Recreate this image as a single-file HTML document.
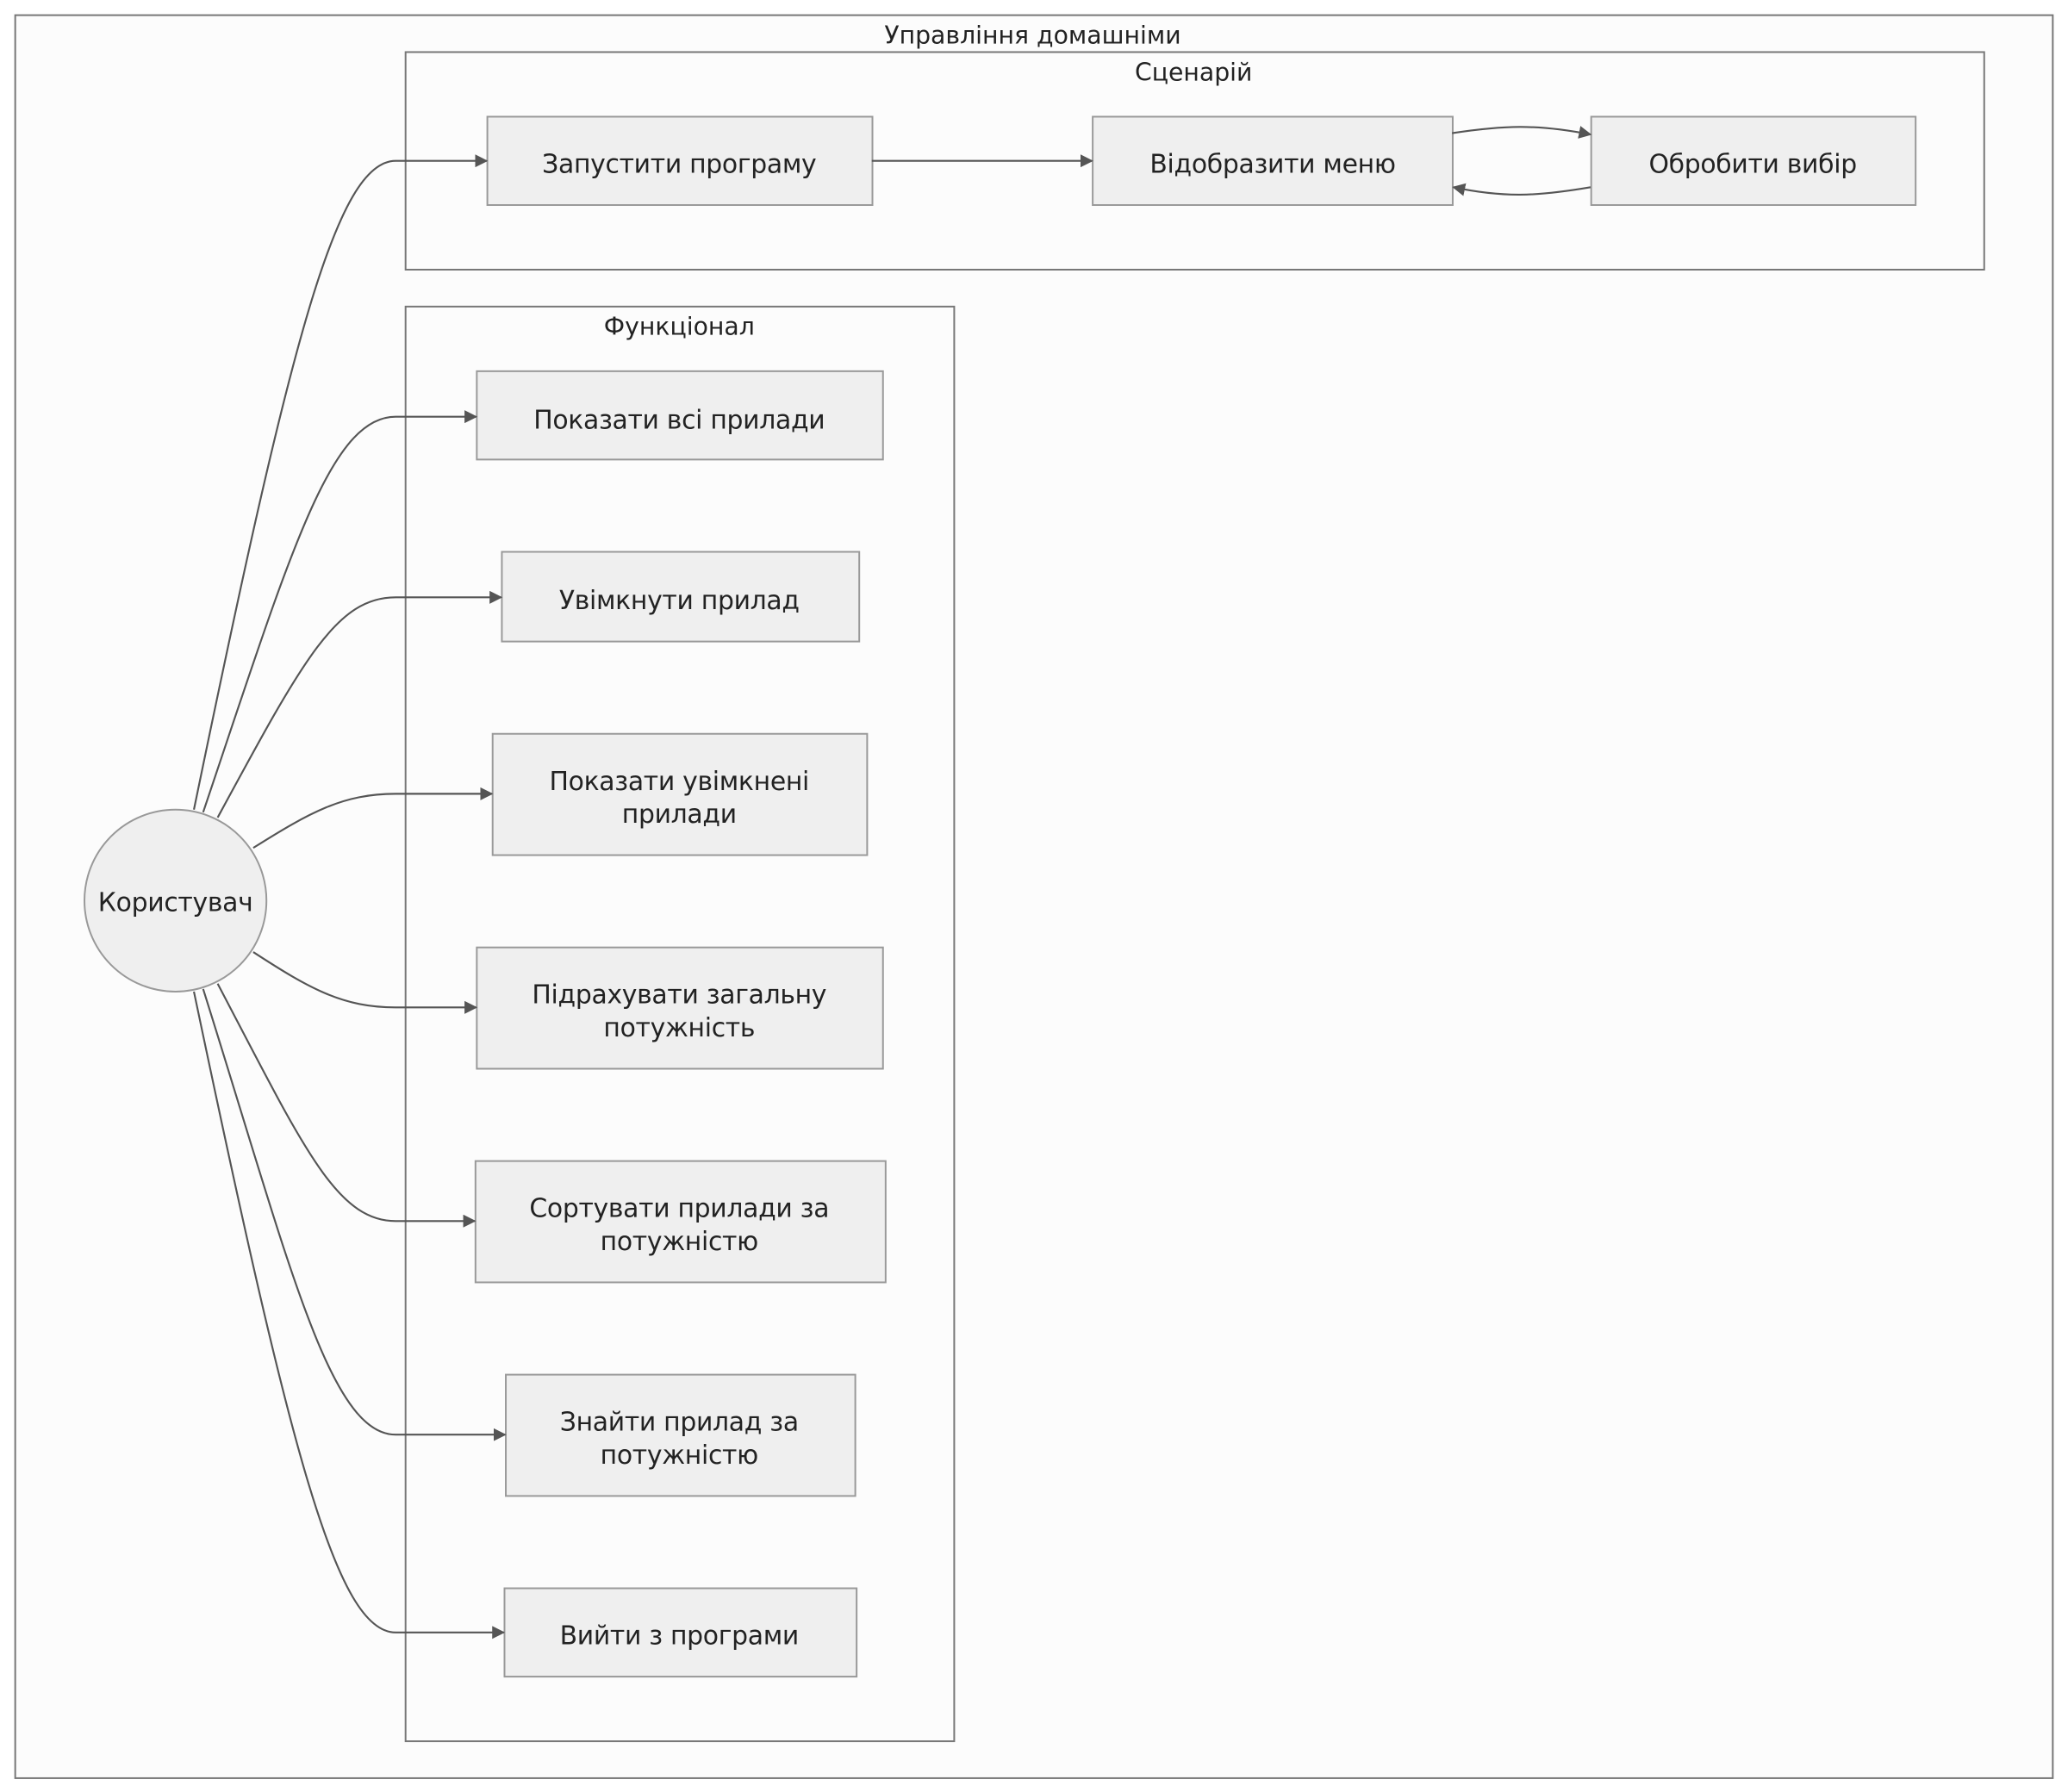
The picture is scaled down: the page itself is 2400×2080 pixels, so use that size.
<!DOCTYPE html>
<html><head><meta charset="utf-8"><style>
html,body{margin:0;padding:0;background:#fff;}
svg{display:block;}
text{font-family:"DejaVu Sans","Liberation Sans",sans-serif;fill:#222;}
</style></head><body>
<svg width="2400" height="2080" viewBox="0 0 1568 1359" xmlns="http://www.w3.org/2000/svg">
<defs><marker id="a" viewBox="0 0 10 10" refX="9" refY="5" markerWidth="7" markerHeight="7" orient="auto"><path d="M0,0L10,5L0,10z" fill="#555"/></marker></defs>
<rect x="0" y="0" width="1568" height="1359" fill="#fff"/>
<rect x="11.5" y="11.5" width="1545" height="1337" fill="#fcfcfc" stroke="#777" stroke-width="1.3"/>
<text x="783" y="33" font-size="18.5" text-anchor="middle" fill="#333">Управління домашніми</text>
<rect x="307.5" y="39.5" width="1197" height="165" fill="#fcfcfc" stroke="#777" stroke-width="1.3"/>
<text x="905" y="61" font-size="18.5" text-anchor="middle" fill="#333">Сценарій</text>
<rect x="307.5" y="232.5" width="416" height="1088" fill="#fcfcfc" stroke="#777" stroke-width="1.3"/>
<text x="515" y="254" font-size="18.5" text-anchor="middle" fill="#333">Функціонал</text>
<g fill="#efefef" stroke="#999" stroke-width="1.3">
<rect x="369.5" y="88.5" width="292" height="67"/>
<rect x="828.5" y="88.5" width="273" height="67"/>
<rect x="1206.5" y="88.5" width="246" height="67"/>
<rect x="361.5" y="281.5" width="308" height="67"/>
<rect x="380.5" y="418.5" width="271" height="68"/>
<rect x="373.5" y="556.5" width="284" height="92"/>
<rect x="361.5" y="718.5" width="308" height="92"/>
<rect x="360.5" y="880.5" width="311" height="92"/>
<rect x="383.5" y="1042.5" width="265" height="92"/>
<rect x="382.5" y="1204.5" width="267" height="67"/>
<circle cx="133" cy="683" r="69"/>
</g>
<g font-size="19.5" text-anchor="middle" letter-spacing="-0.2">
<text x="515" y="131">Запустити програму</text>
<text x="965" y="131">Відобразити меню</text>
<text x="1329" y="131">Обробити вибір</text>
<text x="515" y="325">Показати всі прилади</text>
<text x="515" y="462">Увімкнути прилад</text>
<text x="515" y="599">Показати увімкнені</text>
<text x="515" y="624">прилади</text>
<text x="515" y="761">Підрахувати загальну</text>
<text x="515" y="786">потужність</text>
<text x="515" y="923">Сортувати прилади за</text>
<text x="515" y="948">потужністю</text>
<text x="515" y="1085">Знайти прилад за</text>
<text x="515" y="1110">потужністю</text>
<text x="515" y="1247">Вийти з програми</text>
<text x="133" y="691">Користувач</text>
</g>
<g fill="none" stroke="#555" stroke-width="1.4" marker-end="url(#a)">
<path d="M661,122 L828,122"/>
<path d="M1101,101 C1140,95 1165,94 1206,102"/>
<path d="M1206,142 C1165,149 1140,150 1102,142"/>
<path d="M147,614 C220,260 255,122 300,122 L369,122"/>
<path d="M154,616 C220,420 250,316 300,316 L361,316"/>
<path d="M165,620 C230,500 255,453 300,453 L380,453"/>
<path d="M192,643 C235,616 260,602 300,602 L373,602"/>
<path d="M192,722 C235,750 260,764 300,764 L361,764"/>
<path d="M165,746 C230,870 255,926 300,926 L360,926"/>
<path d="M154,750 C220,960 250,1088 300,1088 L383,1088"/>
<path d="M147,752 C220,1100 255,1238 300,1238 L382,1238"/>
</g>
</svg>
</body></html>
